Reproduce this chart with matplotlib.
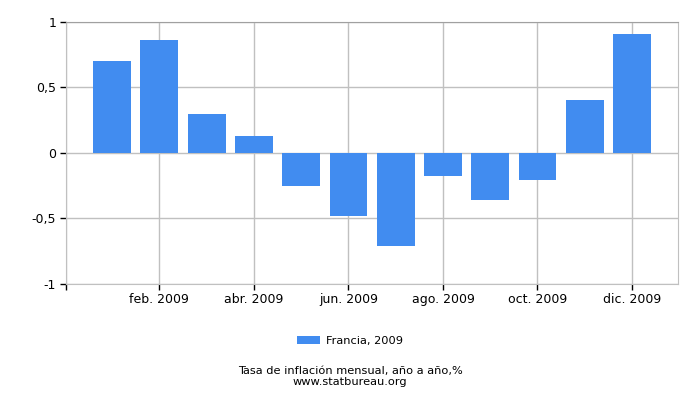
import matplotlib
matplotlib.use('Agg')
import matplotlib.pyplot as plt
from matplotlib.patches import Patch

# Monthly inflation, year over year, France 2009
months = ['ene.', 'feb.', 'mar.', 'abr.', 'may.', 'jun.',
          'jul.', 'ago.', 'sep.', 'oct.', 'nov.', 'dic.']
values = [0.70, 0.86, 0.30, 0.13, -0.25, -0.485,
          -0.715, -0.18, -0.36, -0.21, 0.40, 0.91]
year = 2009
series_label = 'Francia, 2009'
y_ticks = [-1, -0.5, 0, 0.5, 1]
y_tick_labels = ['-1', '-0,5', '0', '0,5', '1']

BAR_COLOR = '#418cf0'
GRID_COLOR = '#c0c0c0'
TICK_FONT_SIZE = 9
TEXT_FONT_SIZE = 8.2

fig = plt.figure(figsize=(7, 4), dpi=100)
ax = fig.add_axes([0.094, 0.291, 0.875, 0.654])

x = list(range(len(months)))
ax.bar(x, values, width=0.8, color=BAR_COLOR, zorder=3)

ax.set_xlim(-0.98, 11.98)
ax.set_ylim(-1, 1)

# x ticks every two months, plus an unlabeled tick at the left edge
tick_pos = [-0.98] + x[1::2]
tick_lab = [''] + [f'{m} {year}' for m in months[1::2]]
ax.set_xticks(tick_pos)
ax.set_xticklabels(tick_lab, fontsize=TICK_FONT_SIZE)
ax.set_yticks(y_ticks)
ax.set_yticklabels(y_tick_labels, fontsize=TICK_FONT_SIZE)
ax.tick_params(axis='both', length=4, width=1, color='black', pad=3)

# Grid lines
ax.grid(True, color=GRID_COLOR, linewidth=1, zorder=0)
ax.set_axisbelow(True)

for side in ['left', 'bottom', 'right']:
    ax.spines[side].set_color(GRID_COLOR)
ax.spines['top'].set_color('#a0a0a0')

# Legend below the chart
handles = [Patch(facecolor=BAR_COLOR, label=series_label)]
fig.legend(handles=handles, loc='center', bbox_to_anchor=(0.5, 0.148),
           frameon=False, fontsize=TEXT_FONT_SIZE, handlelength=2.0, handleheight=0.7,
           handletextpad=0.5)

fig.text(0.5, 0.072, 'Tasa de inflación mensual, año a año,%', ha='center', va='center',
         fontsize=TEXT_FONT_SIZE)
fig.text(0.5, 0.044, 'www.statbureau.org', ha='center', va='center', fontsize=TEXT_FONT_SIZE)

fig.savefig('out.png', dpi=100)
